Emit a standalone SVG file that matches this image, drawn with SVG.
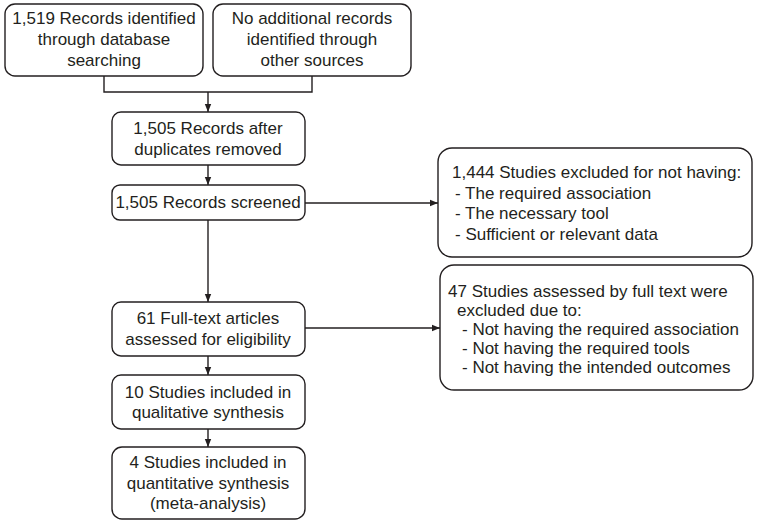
<svg xmlns="http://www.w3.org/2000/svg" width="759" height="524" viewBox="0 0 759 524">
<defs>
<style>
.box{fill:#fff;stroke:#231f20;stroke-width:1.4}
.t{font-family:"Liberation Sans",Arial,sans-serif;font-size:17px;fill:#231f20}
.c{text-anchor:middle}
.ln{fill:none;stroke:#231f20;stroke-width:1.4}
</style>
<marker id="ah" viewBox="0 0 10 10" refX="10" refY="5" markerWidth="8" markerHeight="8" markerUnits="userSpaceOnUse" orient="auto">
<path d="M0,1 L10,5 L0,9 Z" fill="#231f20"/>
</marker>
</defs>
<rect width="759" height="524" fill="#fff"/>
<g id="connectors">
<polyline class="ln" points="104,76 104,92 312,92 312,76"/>
<line class="ln" x1="208" y1="92" x2="208" y2="112" marker-end="url(#ah)"/>
<line class="ln" x1="208" y1="165" x2="208" y2="185" marker-end="url(#ah)"/>
<line class="ln" x1="305" y1="203" x2="438" y2="203" marker-end="url(#ah)"/>
<line class="ln" x1="208" y1="220" x2="208" y2="302" marker-end="url(#ah)"/>
<line class="ln" x1="305" y1="328" x2="440" y2="328" marker-end="url(#ah)"/>
<line class="ln" x1="208" y1="356" x2="208" y2="375" marker-end="url(#ah)"/>
<line class="ln" x1="208" y1="429" x2="208" y2="447" marker-end="url(#ah)"/>
</g>
<g id="n1">
<rect class="box" x="5" y="4" width="198" height="72" rx="10"/>
<text class="t c" x="104" y="24">1,519 Records identified</text>
<text class="t c" x="104" y="45">through database</text>
<text class="t c" x="104" y="66">searching</text>
</g>
<g id="n2">
<rect class="box" x="213" y="4" width="198" height="72" rx="10"/>
<text class="t c" x="312" y="24">No additional records</text>
<text class="t c" x="312" y="45">identified through</text>
<text class="t c" x="312" y="66">other sources</text>
</g>
<g id="n3">
<rect class="box" x="112" y="112" width="193" height="53" rx="9"/>
<text class="t c" x="208" y="134">1,505 Records after</text>
<text class="t c" x="208" y="155">duplicates removed</text>
</g>
<g id="n4">
<rect class="box" x="112" y="185" width="193" height="35" rx="8"/>
<text class="t c" x="208" y="208">1,505 Records screened</text>
</g>
<g id="n5">
<rect class="box" x="438" y="148" width="314" height="109" rx="14"/>
<text class="t" x="452" y="178">1,444 Studies excluded for not having:</text>
<text class="t" x="455" y="199">- The required association</text>
<text class="t" x="455" y="219">- The necessary tool</text>
<text class="t" x="455" y="240">- Sufficient or relevant data</text>
</g>
<g id="n6">
<rect class="box" x="112" y="302" width="193" height="54" rx="9"/>
<text class="t c" x="208" y="324">61 Full-text articles</text>
<text class="t c" x="208" y="345">assessed for eligibility</text>
</g>
<g id="n7">
<rect class="box" x="440" y="265" width="313" height="125" rx="14"/>
<text class="t" x="448" y="297">47 Studies assessed by full text were</text>
<text class="t" x="457" y="316">excluded due to:</text>
<text class="t" x="462" y="335">- Not having the required association</text>
<text class="t" x="462" y="354">- Not having the required tools</text>
<text class="t" x="462" y="373">- Not having the intended outcomes</text>
</g>
<g id="n8">
<rect class="box" x="112" y="375" width="193" height="54" rx="9"/>
<text class="t c" x="208" y="398">10 Studies included in</text>
<text class="t c" x="208" y="418">qualitative synthesis</text>
</g>
<g id="n9">
<rect class="box" x="112" y="447" width="193" height="72" rx="10"/>
<text class="t c" x="208" y="468">4 Studies included in</text>
<text class="t c" x="208" y="489">quantitative synthesis</text>
<text class="t c" x="208" y="509">(meta-analysis)</text>
</g>
</svg>
